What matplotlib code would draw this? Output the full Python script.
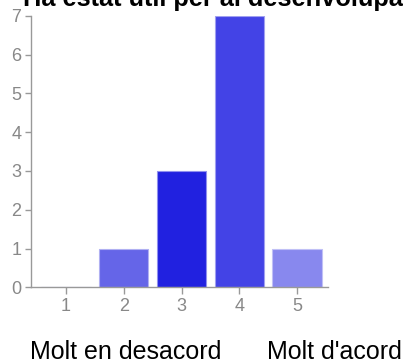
import matplotlib
matplotlib.use("Agg")
import matplotlib.pyplot as plt

categories = [1, 2, 3, 4, 5]
counts = [0, 1, 3, 7, 1]
bar_colors = ["#6666e8", "#6565e8", "#2121e0", "#4343e6", "#8888ee"]
edge_colors = ["#b0b0f2", "#b0b0f2", "#9090ee", "#a0a0f0", "#c0c0f6"]
y_ticks = [0, 1, 2, 3, 4, 5, 6, 7]
title = "Ha estat útil per al desenvolupament"
left_label = "Molt en desacord"
right_label = "Molt d'acord"

plt.rcParams['font.family'] = ['Liberation Sans', 'DejaVu Sans']

W, H = 404, 363
fig = plt.figure(figsize=(W / 100, H / 100), dpi=100)
ax = fig.add_axes([31 / W, (H - 287.3) / H, (328 - 31) / W, (287.3 - 15.7) / H])

ax.bar(categories, counts, width=0.855, color=bar_colors, edgecolor=edge_colors, linewidth=0.8)

ax.set_xlim(0.393, 5.537)
ax.set_ylim(0, 7)
ax.set_xticks(categories)
ax.set_yticks(y_ticks)
ax.set_xticklabels([str(c) for c in categories])
ax.set_yticklabels([str(t) for t in y_ticks])

for s in ["top", "right"]:
    ax.spines[s].set_visible(False)
for s in ["left", "bottom"]:
    ax.spines[s].set_color("#999999")
    ax.spines[s].set_linewidth(1.0)

ax.tick_params(axis='y', colors="#999999", labelcolor="#888888", length=4, width=1, pad=3, labelsize=13)
ax.tick_params(axis='x', colors="#999999", labelcolor="#888888", length=5, width=1, pad=3, labelsize=13)

fig.text(23 / W, 1 - 6 / H, title, fontsize=18.3, fontweight='bold', color='black', va='baseline', ha='left')
fig.text(30 / W, 4 / H, left_label, fontsize=18, color='black', va='baseline', ha='left')
fig.text(267 / W, 4 / H, right_label, fontsize=18, color='black', va='baseline', ha='left')

fig.savefig("out.png", dpi=100)
